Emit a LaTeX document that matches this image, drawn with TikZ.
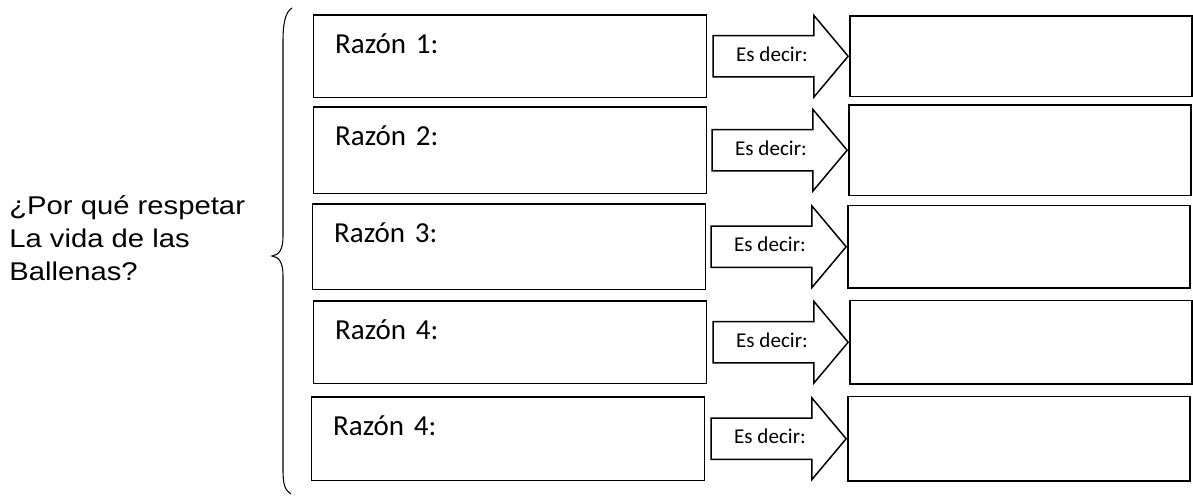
\documentclass[tikz,border=0pt]{standalone}
\usepackage{fontspec}
\setmainfont{Carlito}
\newfontfamily\questionfont[FakeStretch=1.14]{Liberation Sans}
\usepackage{tikz}
\usetikzlibrary{positioning}
\usetikzlibrary{shapes.arrows}

\begin{document}
\begin{tikzpicture}[
		x=0.02cm, y=-0.02cm,
		% Style definitions
		reason/.style={draw, line width=0.85pt, anchor=north west, inner xsep=0.43cm, inner ysep=0pt, text width=7.0cm, align=left, text height=0.78cm, font=\fontsize{16.5}{19}\selectfont},
		answer/.style={draw, line width=0.85pt, minimum width=6.84cm, inner sep=0pt},
		saying/.style={single arrow, draw, line width=0.85pt, fill=white, minimum height=2.7cm, minimum width=1.6cm, single arrow head extend=0.4cm, single arrow tip angle=100, inner xsep=2pt, inner ysep=0.2cm, text height=0.3cm, text depth=0.1cm, font=\fontsize{12}{14}\selectfont},
		question/.style={anchor=base west, align=left, inner sep=0pt, font=\questionfont\fontsize{14.6}{18.7}\selectfont},
		brace/.style={draw, line width=0.6pt},
		]
		\useasboundingbox (0,0) rectangle (1193,495);

		% Question on the left
		\node[question] (q) at (9,280) {¿Por qué respetar\\La vida de las\\Ballenas?};

		% Row 1
		\node[reason, text depth=0.88cm] (r1) at (313,14) {Razón 1:};
		\node[saying, right=0.1cm of r1] (e1) {Es decir:};
		\node[answer, minimum height=1.62cm, right=0pt of e1] (a1) {};

		% Row 2
		\node[reason, text depth=0.96cm] (r2) at (313,106) {Razón 2:};
		\node[saying, right=0.08cm of r2] (e2) {Es decir:};
		\node[answer, minimum height=1.82cm, right=0pt of e2] (a2) {};

		% Row 3
		\node[reason, text depth=0.94cm] (r3) at (312,203) {Razón 3:};
		\node[saying, right=0.08cm of r3] (e3) {Es decir:};
		\node[answer, minimum height=1.66cm, right=0pt of e3] (a3) {};

		% Row 4
		\node[reason, text depth=0.88cm] (r4) at (313,300) {Razón 4:};
		\node[saying, right=0.1cm of r4] (e4) {Es decir:};
		\node[answer, minimum height=1.68cm, right=0pt of e4] (a4) {};

		% Row 5
		\node[reason, text depth=0.9cm] (r5) at (311,396) {Razón 4:};
		\node[saying, right=0.1cm of r5] (e5) {Es decir:};
		\node[answer, minimum height=1.7cm, right=0pt of e5] (a5) {};

		% Curly brace between question and reasons
		\coordinate (btop) at (292,8);
		\coordinate (btip) at (272,256);
		\coordinate (bbot) at (291,494);
		\draw[brace] (btop) .. controls (285,12) and (283,25) .. (283,40) -- (283,236)
			.. controls (283,250) and (279,255) .. (btip)
			.. controls (279,257) and (283,262) .. (283,276) -- (283,470)
			.. controls (283,485) and (285,490) .. (bbot);
	\end{tikzpicture}
\end{document}
